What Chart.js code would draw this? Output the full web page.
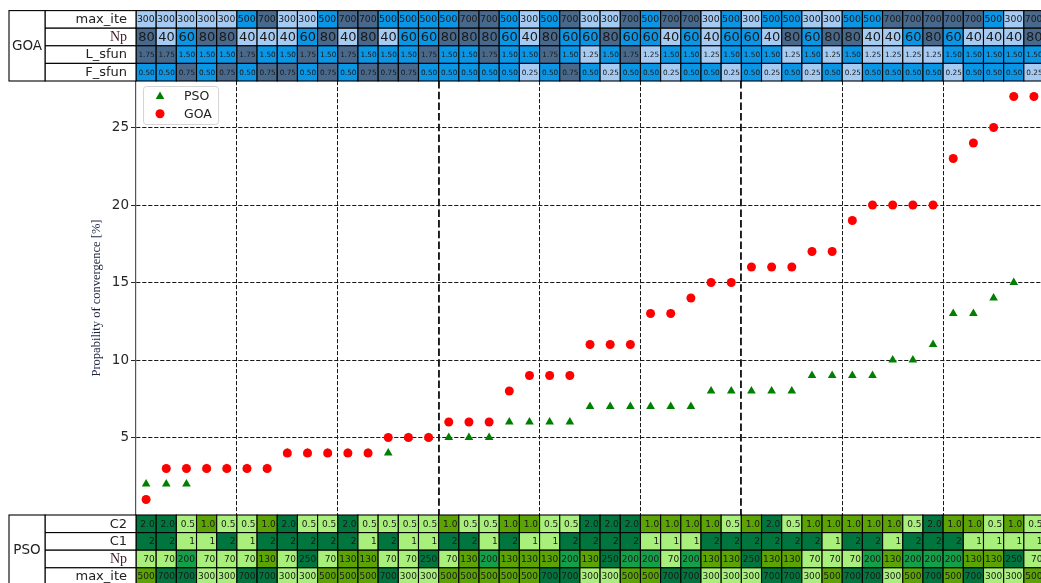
<!DOCTYPE html>
<html>
<head>
<meta charset="utf-8">
<title>Probability of convergence - PSO vs GOA</title>
<script src="https://cdn.jsdelivr.net/npm/chart.js@4.4.1/dist/chart.umd.min.js"></script>
<style>
  html, body { margin: 0; padding: 0; background: #fff; }
</style>
</head>
<body>
<canvas id="convChart" width="1041" height="583"></canvas>
<script>
// Probability of convergence [%] for each run, runs sorted by result
const psoConv = [2, 2, 2, 3, 3, 3, 3, 4, 4, 4, 4, 4, 4, 5, 5, 5, 5, 5, 6, 6, 6, 6, 7, 7, 7, 7, 7, 7, 8, 8, 8, 8, 8, 9, 9, 9, 9, 10, 10, 11, 13, 13, 14, 15, null];
const goaConv = [1, 3, 3, 3, 3, 3, 3, 4, 4, 4, 4, 4, 5, 5, 5, 6, 6, 6, 8, 9, 9, 9, 11, 11, 11, 13, 13, 14, 15, 15, 16, 16, 16, 17, 17, 19, 20, 20, 20, 20, 23, 24, 25, 27, 27];

const yTicks = [5, 10, 15, 20, 25];
const groupLines = [4.5, 9.5, 14.5, 19.5, 24.5, 29.5, 34.5, 39.5];
const majorLines = [14.5, 29.5];

// GOA settings of each run
const goaMaxIte = [300, 300, 300, 300, 300, 500, 700, 300, 300, 500, 700, 700, 500, 500, 500, 500, 700, 700, 500, 300, 500, 700, 300, 300, 700, 500, 700, 700, 300, 500, 300, 500, 500, 300, 300, 500, 500, 700, 700, 700, 700, 700, 500, 300, 700];
const goaNp = [80, 40, 60, 80, 80, 40, 40, 40, 60, 80, 40, 80, 40, 60, 60, 80, 80, 80, 60, 40, 80, 60, 60, 80, 60, 60, 40, 60, 40, 60, 60, 40, 80, 60, 80, 80, 40, 40, 60, 80, 60, 40, 40, 40, 80];
const goaLsfun = [1.75, 1.75, 1.50, 1.50, 1.50, 1.75, 1.50, 1.50, 1.75, 1.50, 1.75, 1.50, 1.50, 1.50, 1.75, 1.50, 1.50, 1.75, 1.50, 1.50, 1.75, 1.50, 1.25, 1.50, 1.75, 1.25, 1.50, 1.50, 1.25, 1.50, 1.50, 1.50, 1.25, 1.50, 1.25, 1.50, 1.25, 1.25, 1.25, 1.25, 1.50, 1.50, 1.50, 1.50, 1.50];
const goaFsfun = [0.50, 0.50, 0.75, 0.50, 0.75, 0.50, 0.75, 0.75, 0.50, 0.75, 0.50, 0.75, 0.75, 0.75, 0.50, 0.50, 0.50, 0.50, 0.50, 0.25, 0.50, 0.75, 0.50, 0.25, 0.50, 0.50, 0.25, 0.50, 0.50, 0.25, 0.50, 0.25, 0.50, 0.25, 0.50, 0.25, 0.50, 0.50, 0.50, 0.50, 0.25, 0.50, 0.50, 0.50, 0.25];

// PSO settings of each run
const psoC2 = [2.0, 2.0, 0.5, 1.0, 0.5, 0.5, 1.0, 2.0, 0.5, 0.5, 2.0, 0.5, 0.5, 0.5, 0.5, 1.0, 0.5, 0.5, 1.0, 1.0, 0.5, 0.5, 2.0, 2.0, 2.0, 1.0, 1.0, 1.0, 1.0, 0.5, 1.0, 2.0, 0.5, 1.0, 1.0, 1.0, 1.0, 1.0, 0.5, 2.0, 1.0, 1.0, 0.5, 1.0, 0.5];
const psoC1 = [2, 2, 1, 1, 2, 1, 2, 2, 2, 2, 2, 1, 2, 1, 1, 2, 2, 1, 2, 1, 1, 2, 2, 2, 2, 1, 1, 1, 2, 2, 2, 2, 2, 2, 1, 2, 2, 1, 2, 2, 2, 1, 1, 1, 1];
const psoNp = [70, 70, 200, 70, 70, 70, 130, 70, 250, 70, 130, 130, 70, 70, 250, 70, 130, 200, 130, 130, 130, 200, 130, 250, 200, 200, 70, 200, 130, 130, 250, 130, 130, 70, 70, 70, 200, 130, 200, 200, 200, 130, 130, 250, 70];
const psoMaxIte = [500, 700, 700, 300, 300, 700, 700, 300, 300, 500, 500, 500, 700, 300, 300, 500, 500, 500, 500, 500, 700, 700, 300, 300, 500, 500, 700, 700, 300, 300, 300, 700, 700, 300, 500, 700, 700, 300, 500, 700, 500, 700, 300, 300, 500];

// cell colours, from lowest to highest setting
const blues = ['#a6cbf3', '#0a95e5', '#48698b'];
const greens3 = ['#a9ef7b', '#5ba403', '#00753d'];
const greens4 = ['#a9ef7b', '#5ba403', '#14a048', '#00753d'];
const greens2 = ['#a9ef7b', '#00753d'];

const ROW_H = 17.6;
const LABEL_FONT = '13px "DejaVu Sans"';
const NP_FONT = '14px "Liberation Serif"';

const goaRows = [
  { label: 'max_ite', values: goaMaxIte, palette: blues, font: '9.3px "DejaVu Sans"', fmt: v => String(v) },
  { label: 'Np', values: goaNp, palette: blues, font: '13px "DejaVu Sans"', fmt: v => String(v), labelFont: NP_FONT, labelColor: '#3a1c24' },
  { label: 'L_sfun', values: goaLsfun, palette: blues, font: '7.3px "DejaVu Sans"', fmt: v => v.toFixed(2) },
  { label: 'F_sfun', values: goaFsfun, palette: blues, font: '7.3px "DejaVu Sans"', fmt: v => v.toFixed(2) }
];

const psoRows = [
  { label: 'C2', values: psoC2, palette: greens3, font: '9px "DejaVu Sans"', fmt: v => v.toFixed(1) },
  { label: 'C1', values: psoC1, palette: greens2, font: '9px "DejaVu Sans"', fmt: v => String(v) },
  { label: 'Np', values: psoNp, palette: greens4, font: '9px "DejaVu Sans"', fmt: v => String(v), labelFont: NP_FONT, labelColor: '#3a1c24' },
  { label: 'max_ite', values: psoMaxIte, palette: greens3, font: '9px "DejaVu Sans"', fmt: v => String(v) }
];

// Draws one parameter table, one cell per run, aligned on the x scale
function drawTable(chart, top, name, rows) {
  const { ctx, chartArea, scales } = chart;
  const xs = scales.x;
  const groupLeft = 9;
  const labelLeft = 45;
  const height = rows.length * ROW_H;

  ctx.save();
  ctx.lineWidth = 1.1;
  ctx.strokeStyle = '#000';
  ctx.textBaseline = 'middle';

  rows.forEach((row, r) => {
    const y0 = top + r * ROW_H;
    const levels = [...new Set(row.values)].sort((a, b) => a - b);
    row.values.forEach((v, i) => {
      const x0 = xs.getPixelForValue(i - 0.5);
      const x1 = xs.getPixelForValue(i + 0.5);
      ctx.fillStyle = row.palette[levels.indexOf(v)];
      ctx.fillRect(x0, y0, x1 - x0, ROW_H);
      ctx.strokeRect(x0, y0, x1 - x0, ROW_H);
      ctx.fillStyle = '#1a1a1a';
      ctx.font = row.font;
      ctx.textAlign = 'right';
      ctx.fillText(row.fmt(v), x1 - 1.5, y0 + ROW_H / 2 + 0.5);
    });

    // row name cell
    ctx.fillStyle = '#fff';
    ctx.fillRect(labelLeft, y0, chartArea.left - labelLeft, ROW_H);
    ctx.strokeRect(labelLeft, y0, chartArea.left - labelLeft, ROW_H);
    ctx.fillStyle = row.labelColor || '#222';
    ctx.font = row.labelFont || LABEL_FONT;
    ctx.textAlign = 'right';
    ctx.fillText(row.label, chartArea.left - 9, y0 + ROW_H / 2 + 0.5);
  });

  // algorithm name cell spanning all rows
  ctx.fillStyle = '#fff';
  ctx.fillRect(groupLeft, top, labelLeft - groupLeft, height);
  ctx.strokeRect(groupLeft, top, labelLeft - groupLeft, height);
  ctx.fillStyle = '#222';
  ctx.font = '13.5px "DejaVu Sans"';
  ctx.textAlign = 'center';
  ctx.fillText(name, (groupLeft + labelLeft) / 2, top + height / 2 + 0.5);
  ctx.restore();
}

// Boxed legend in the upper left corner of the plot
function drawLegend(chart) {
  const { ctx, chartArea } = chart;
  const left = chartArea.left + 7;
  const top = chartArea.top + 5;
  ctx.save();
  ctx.beginPath();
  ctx.roundRect(left + 0.5, top + 0.5, 75, 38, 3);
  ctx.fillStyle = 'rgba(255,255,255,0.85)';
  ctx.fill();
  ctx.strokeStyle = '#d4d4d4';
  ctx.lineWidth = 1;
  ctx.stroke();

  chart.data.datasets.forEach((ds, k) => {
    const cy = top + 10.5 + k * 17.3;
    ctx.fillStyle = ds.backgroundColor;
    ctx.strokeStyle = ds.backgroundColor;
    Chart.helpers.drawPoint(ctx, { pointStyle: ds.pointStyle, radius: ds.pointRadius, borderWidth: 0 }, left + 17, cy);
    ctx.fillStyle = '#222';
    ctx.font = '12.5px "DejaVu Sans"';
    ctx.textAlign = 'left';
    ctx.textBaseline = 'middle';
    ctx.fillText(ds.label, left + 41, cy + 0.5);
  });
  ctx.restore();
}

const tablesPlugin = {
  id: 'paramTables',
  afterDraw(chart) {
    drawTable(chart, chart.chartArea.top - goaRows.length * ROW_H, 'GOA', goaRows);
    drawTable(chart, chart.chartArea.bottom, 'PSO', psoRows);
    drawLegend(chart);
  }
};

function toPoints(values) {
  return values
    .map((v, i) => ({ x: i, y: v }))
    .filter(p => p.y !== null);
}

const isMajor = c => c.tick && majorLines.includes(c.tick.value);

window.addEventListener('load', function () {
  const ctx = document.getElementById('convChart');

  new Chart(ctx, {
    type: 'scatter',
    data: {
      datasets: [
        {
          label: 'PSO',
          data: toPoints(psoConv),
          pointStyle: 'triangle',
          pointRadius: 5,
          backgroundColor: '#008000',
          borderWidth: 0,
          order: 1
        },
        {
          label: 'GOA',
          data: toPoints(goaConv),
          pointStyle: 'circle',
          pointRadius: 4.5,
          backgroundColor: '#ff0000',
          borderWidth: 0,
          order: 0
        }
      ]
    },
    options: {
      responsive: false,
      animation: false,
      layout: {
        autoPadding: false,
        padding: { top: 81, bottom: 68, left: 0, right: 0 }
      },
      plugins: {
        legend: { display: false },
        tooltip: { enabled: false }
      },
      scales: {
        x: {
          type: 'linear',
          min: -0.5,
          max: 44.35,
          afterBuildTicks: s => { s.ticks = groupLines.map(v => ({ value: v })); },
          afterFit: s => { s.height = 0; },
          ticks: { display: false },
          grid: {
            drawTicks: false,
            color: '#1a1a1a',
            lineWidth: c => isMajor(c) ? 1.9 : 1
          },
          border: {
            display: false,
            dash: c => isMajor(c) ? [7.5, 3.2] : [4.2, 1.8]
          }
        },
        y: {
          min: 0,
          max: 28,
          afterBuildTicks: s => { s.ticks = yTicks.map(v => ({ value: v })); },
          afterFit: s => { s.width = 136; },
          ticks: {
            font: { family: 'DejaVu Sans', size: 13.5 },
            color: '#262626',
            padding: 2
          },
          grid: {
            color: '#1a1a1a',
            lineWidth: 1,
            tickLength: 5,
            tickColor: '#262626',
            tickBorderDash: []
          },
          border: { display: true, color: '#555', width: 1.2, dash: [4.2, 1.8] },
          title: {
            display: true,
            text: 'Propability of convergence [%]',
            font: { family: 'Liberation Serif', size: 12.5 },
            color: '#1c2340',
            padding: { top: 89, bottom: 0 }
          }
        }
      }
    },
    plugins: [tablesPlugin]
  });
});
</script>
</body>
</html>
